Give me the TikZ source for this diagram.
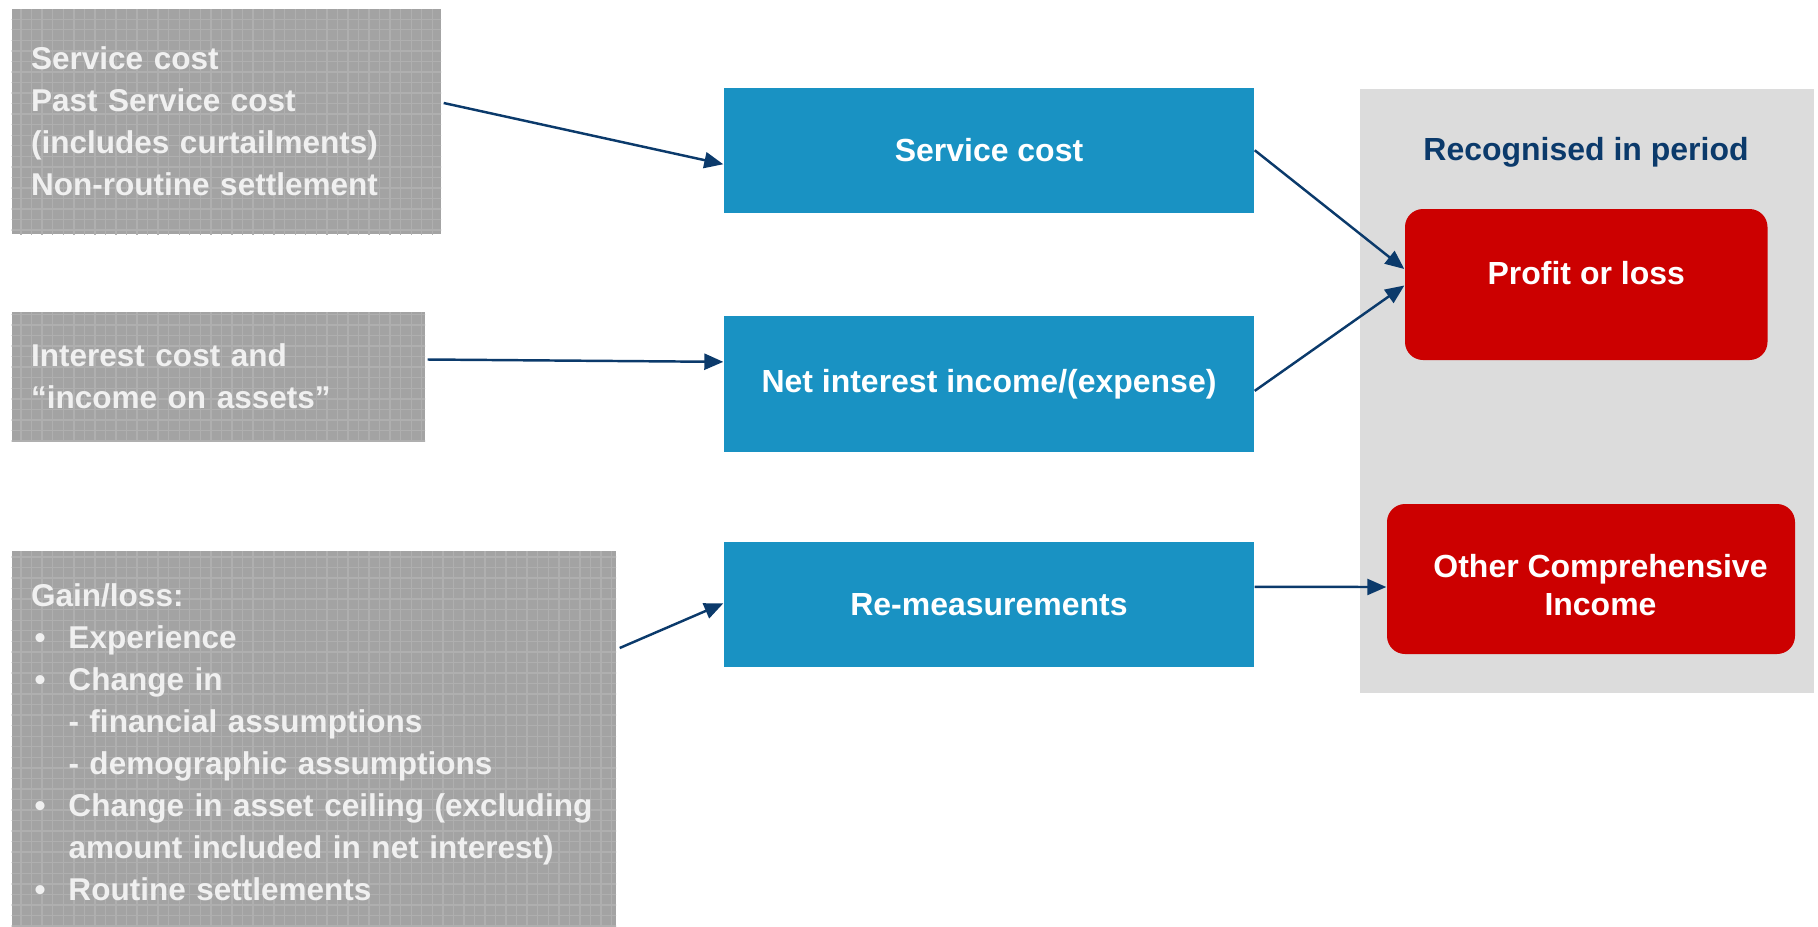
\documentclass[tikz,border=0pt]{standalone}
\usepackage{fontspec}
\setmainfont{Liberation Sans}
\usetikzlibrary{arrows.meta,patterns}

\definecolor{boxblue}{HTML}{1992C3}
\definecolor{boxred}{HTML}{CC0000}
\definecolor{panelgrey}{HTML}{DCDCDC}
\definecolor{sourcegrey}{HTML}{A3A3A3}
\definecolor{gridgrey}{HTML}{AFAFAF}
\definecolor{navy}{HTML}{0B3A6B}

\newcommand{\gbullet}{\makebox[3.74mm][l]{\hspace{.35mm}•}}

\begin{document}
\begin{tikzpicture}[
  link/.style={draw=navy,line width=.7pt,-{Triangle[length=1.9mm,width=1.6mm]}},
  source/.style={fill=sourcegrey,postaction={pattern=grid,pattern color=gridgrey},
    text=white!94!black,align=left,inner xsep=1.95mm,inner ysep=0pt,
    font=\fontsize{8.97}{11.95}\selectfont\bfseries},
  measure/.style={fill=boxblue,text=white,minimum width=5.3cm,inner sep=0pt,
    font=\fontsize{9.1}{11}\selectfont\bfseries},
  result/.style={fill=boxred,text=white,rounded corners=1.8mm,inner sep=0pt,
    align=center,font=\fontsize{9.1}{10.8}\selectfont\bfseries}]

\useasboundingbox (0,0) rectangle (18.18,-9.26);

% where the amounts come from
\node[source,text width=3.904cm,minimum height=2.25cm] (service) at (2.263,-1.215)
  {Service cost\\Past Service cost\\(includes curtailments)\\Non-routine settlement};
\node[source,text width=3.744cm,minimum height=1.29cm] (interest) at (2.183,-3.765)
  {Interest cost and\\“income on assets”};
\node[source,text width=5.654cm,minimum height=3.82cm] (gainloss) at (3.138,-7.42)
  {Gain/loss:\\
   \gbullet Experience\\
   \gbullet Change in\\
   \hspace*{3.74mm}- financial assumptions\\
   \hspace*{3.74mm}- demographic assumptions\\
   \gbullet \mbox{Change in asset ceiling (excluding}\\
   \hspace*{3.74mm}amount included in net interest)\\
   \gbullet Routine settlements};

% components of the cost
\node[measure,minimum height=1.245cm] (servcost) at (9.89,-1.5025) {Service cost};
\node[measure,minimum height=1.357cm] (netint) at (9.89,-3.8385)
  {Net interest income/(expense)};
\node[measure,minimum height=1.247cm] (remeas) at (9.89,-6.0435) {Re-measurements};

% recognised in period
\node[fill=panelgrey,minimum width=4.54cm,minimum height=6.04cm,inner sep=0pt]
  (panel) at (15.87,-3.91) {};
\node[text=navy,font=\fontsize{9.1}{11}\selectfont\bfseries] (title) at (15.86,-1.52)
  {Recognised in period};
\node[result,minimum width=3.625cm,minimum height=1.51cm,text height=2.3mm,
  text depth=2.4mm] (pl) at (15.8625,-2.845) {Profit or loss};
\node[result,minimum width=4.08cm,minimum height=1.5cm] (oci) at (15.91,-5.79)
  {\rule{0pt}{3.5mm}\hspace*{1.9mm}Other Comprehensive\\\hspace*{1.9mm}Income};

\draw[link] ([xshift=.2mm,yshift=1.85mm]service.east) -- ([yshift=-1.4mm]servcost.west);
\draw[link] ([xshift=.2mm,yshift=1.7mm]interest.east) -- ([yshift=2.2mm]netint.west);
\draw[link] ([xshift=.3mm,yshift=9.4mm]gainloss.east) -- ([yshift=.1mm]remeas.west);
\draw[link] (servcost.east) -- ([yshift=1.55mm]pl.west);
\draw[link] ([yshift=-.7mm]netint.east) -- ([yshift=-.1mm]pl.west);
\draw[link] ([yshift=1.75mm]remeas.east) -- ([yshift=-.8mm]oci.west);
\end{tikzpicture}
\end{document}
